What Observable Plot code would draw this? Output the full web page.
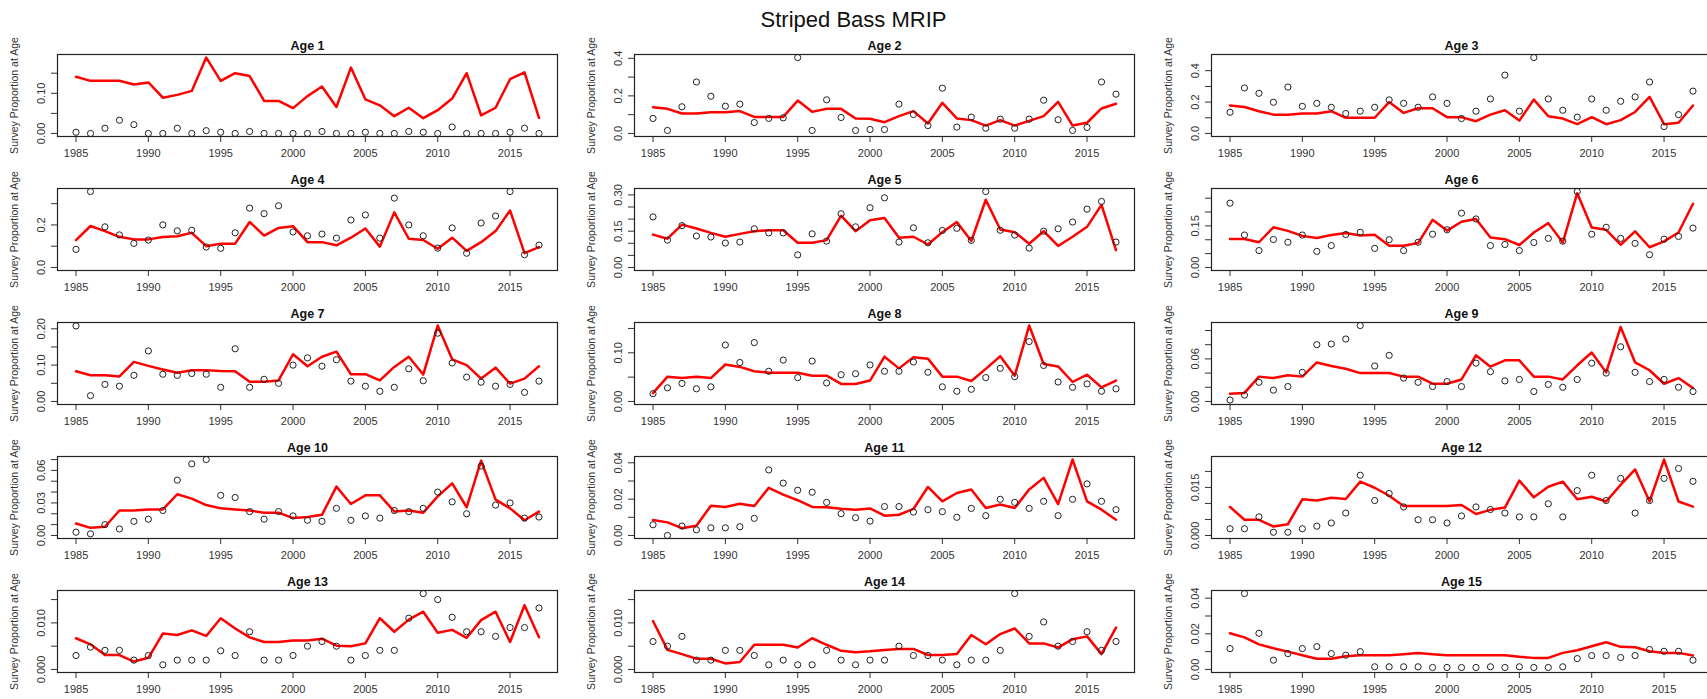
<!DOCTYPE html>
<html><head><meta charset="utf-8">
<script src="https://cdn.jsdelivr.net/npm/d3@7"></script>
<script src="https://cdn.jsdelivr.net/npm/@observablehq/plot@0.6"></script>
<style>
html,body{margin:0;padding:0;background:#fff;overflow:hidden;}
#fig{position:relative;width:1707px;height:699px;overflow:hidden;background:#fff;font-family:"Liberation Sans",Arial,sans-serif;}
#title{position:absolute;left:0;width:1707px;top:7px;text-align:center;font-size:22px;color:#111;line-height:26px;}
.panel{position:absolute;}
</style></head><body>
<div id="fig"><div id="title">Striped Bass MRIP</div></div>
<script>
const years = [1985,1986,1987,1988,1989,1990,1991,1992,1993,1994,1995,1996,1997,1998,1999,2000,2001,2002,2003,2004,2005,2006,2007,2008,2009,2010,2011,2012,2013,2014,2015,2016,2017];
const xTicks = [1985,1990,1995,2000,2005,2010,2015];
const ages = [1,2,3,4,5,6,7,8,9,10,11,12,13,14,15];

const pred1 = [0.141,0.131,0.131,0.131,0.122,0.127,0.089,0.096,0.106,0.189,0.131,0.150,0.143,0.081,0.081,0.063,0.093,0.117,0.066,0.164,0.085,0.070,0.043,0.064,0.038,0.058,0.087,0.150,0.045,0.064,0.135,0.152,0.039];
const obs1  = [0.003,0.000,0.013,0.033,0.022,0.000,0.000,0.013,0.000,0.007,0.003,0.000,0.005,0.000,0.000,0.000,0.000,0.005,0.000,0.000,0.003,0.000,0.000,0.005,0.003,0.000,0.016,0.000,0.000,0.000,0.003,0.013,0.000];
const pred2 = [0.140,0.131,0.106,0.106,0.113,0.113,0.119,0.088,0.088,0.088,0.175,0.115,0.131,0.131,0.080,0.078,0.060,0.092,0.119,0.053,0.163,0.080,0.071,0.042,0.071,0.042,0.067,0.092,0.168,0.042,0.057,0.133,0.158];
const obs2  = [0.080,0.016,0.142,0.274,0.198,0.145,0.156,0.058,0.080,0.083,0.404,0.016,0.179,0.085,0.016,0.021,0.021,0.156,0.101,0.042,0.241,0.034,0.087,0.028,0.076,0.028,0.076,0.177,0.073,0.016,0.032,0.274,0.209];
const pred3 = [0.178,0.169,0.142,0.120,0.120,0.127,0.127,0.142,0.100,0.100,0.100,0.200,0.131,0.161,0.161,0.104,0.104,0.078,0.120,0.148,0.082,0.216,0.110,0.095,0.059,0.104,0.059,0.085,0.137,0.233,0.059,0.068,0.178];
const obs3  = [0.135,0.290,0.256,0.199,0.296,0.173,0.192,0.167,0.127,0.142,0.167,0.214,0.192,0.167,0.233,0.192,0.095,0.142,0.220,0.372,0.142,0.484,0.220,0.148,0.104,0.220,0.148,0.205,0.233,0.328,0.044,0.120,0.270];
const pred4 = [0.129,0.195,0.171,0.144,0.132,0.132,0.143,0.147,0.163,0.100,0.112,0.112,0.214,0.150,0.186,0.194,0.119,0.119,0.104,0.140,0.183,0.098,0.259,0.135,0.129,0.088,0.140,0.078,0.119,0.171,0.268,0.067,0.096];
const obs4  = [0.085,0.357,0.191,0.153,0.113,0.129,0.200,0.172,0.175,0.096,0.090,0.163,0.279,0.253,0.290,0.167,0.149,0.157,0.138,0.223,0.247,0.138,0.326,0.200,0.149,0.091,0.186,0.067,0.209,0.242,0.357,0.060,0.105];
const pred5 = [0.136,0.119,0.177,0.161,0.143,0.127,0.139,0.150,0.154,0.154,0.102,0.102,0.113,0.214,0.150,0.195,0.205,0.123,0.127,0.095,0.146,0.188,0.109,0.280,0.157,0.146,0.098,0.150,0.089,0.127,0.168,0.259,0.072];
const obs5  = [0.209,0.113,0.173,0.130,0.126,0.101,0.105,0.160,0.143,0.143,0.052,0.139,0.109,0.222,0.168,0.247,0.288,0.105,0.164,0.102,0.153,0.162,0.112,0.314,0.154,0.134,0.080,0.150,0.160,0.188,0.241,0.273,0.105];
const pred6 = [0.103,0.103,0.091,0.145,0.132,0.114,0.106,0.117,0.124,0.115,0.118,0.078,0.078,0.088,0.172,0.133,0.165,0.175,0.108,0.102,0.081,0.126,0.160,0.090,0.268,0.144,0.136,0.082,0.130,0.073,0.094,0.126,0.230];
const obs6  = [0.232,0.117,0.061,0.101,0.091,0.117,0.058,0.079,0.119,0.127,0.069,0.100,0.061,0.091,0.120,0.136,0.196,0.175,0.079,0.083,0.061,0.090,0.105,0.095,0.274,0.120,0.145,0.105,0.087,0.046,0.102,0.112,0.142];
const pred7 = [0.083,0.072,0.072,0.069,0.109,0.098,0.088,0.079,0.086,0.086,0.084,0.083,0.054,0.054,0.058,0.130,0.097,0.123,0.137,0.075,0.075,0.058,0.095,0.123,0.074,0.209,0.116,0.100,0.063,0.093,0.049,0.063,0.097];
const obs7  = [0.208,0.016,0.047,0.042,0.072,0.139,0.075,0.072,0.077,0.075,0.039,0.145,0.039,0.061,0.050,0.100,0.120,0.097,0.115,0.056,0.042,0.028,0.039,0.090,0.057,0.188,0.106,0.067,0.053,0.042,0.047,0.025,0.056];
const pred8 = [0.017,0.051,0.048,0.051,0.048,0.076,0.071,0.062,0.059,0.059,0.059,0.053,0.053,0.036,0.036,0.043,0.092,0.068,0.091,0.088,0.051,0.051,0.042,0.067,0.093,0.053,0.156,0.077,0.072,0.040,0.055,0.029,0.043];
const obs8  = [0.016,0.028,0.037,0.026,0.030,0.116,0.080,0.121,0.062,0.085,0.049,0.083,0.038,0.055,0.057,0.075,0.062,0.062,0.081,0.060,0.030,0.021,0.025,0.049,0.068,0.051,0.123,0.074,0.040,0.029,0.036,0.021,0.026];
const pred9 = [0.011,0.012,0.035,0.033,0.037,0.035,0.055,0.050,0.046,0.040,0.040,0.040,0.035,0.035,0.025,0.025,0.031,0.065,0.049,0.058,0.058,0.035,0.035,0.031,0.051,0.069,0.041,0.105,0.055,0.044,0.025,0.033,0.019];
const obs9  = [0.002,0.009,0.027,0.016,0.021,0.041,0.080,0.081,0.088,0.107,0.050,0.065,0.033,0.027,0.021,0.028,0.021,0.054,0.042,0.029,0.031,0.014,0.024,0.020,0.031,0.054,0.040,0.077,0.041,0.028,0.031,0.020,0.014];
const pred10 = [0.011,0.007,0.008,0.023,0.023,0.024,0.024,0.038,0.034,0.028,0.025,0.024,0.023,0.021,0.021,0.016,0.017,0.019,0.045,0.029,0.037,0.037,0.022,0.023,0.021,0.036,0.048,0.026,0.069,0.033,0.025,0.014,0.022];
const obs10  = [0.003,0.0015,0.010,0.006,0.013,0.015,0.023,0.051,0.066,0.070,0.037,0.035,0.022,0.015,0.022,0.018,0.014,0.013,0.025,0.014,0.018,0.016,0.023,0.022,0.025,0.040,0.031,0.020,0.064,0.028,0.030,0.016,0.017];
const pred11 = [0.0085,0.0072,0.0040,0.0053,0.0164,0.0157,0.0175,0.0162,0.0262,0.0225,0.0194,0.0157,0.0155,0.0147,0.0142,0.0149,0.0109,0.0114,0.0146,0.0267,0.0188,0.0234,0.0253,0.0151,0.0170,0.0151,0.0253,0.0317,0.0173,0.0418,0.0188,0.0142,0.0087];
const obs11  = [0.0059,0.0000,0.0052,0.0031,0.0042,0.0042,0.0048,0.0094,0.0361,0.0288,0.0249,0.0238,0.0182,0.0120,0.0098,0.0079,0.0159,0.0159,0.0129,0.0142,0.0131,0.0100,0.0149,0.0109,0.0199,0.0182,0.0149,0.0188,0.0109,0.0199,0.0284,0.0188,0.0142];
const pred12 = [0.0089,0.0049,0.0049,0.0028,0.0035,0.0113,0.0109,0.0118,0.0114,0.0168,0.0149,0.0124,0.0092,0.0092,0.0092,0.0092,0.0095,0.0067,0.0080,0.0087,0.0171,0.0119,0.0152,0.0168,0.0113,0.0121,0.0106,0.0158,0.0206,0.0106,0.0237,0.0106,0.0090];
const obs12  = [0.0021,0.0021,0.0058,0.0010,0.0010,0.0021,0.0029,0.0039,0.0070,0.0188,0.0109,0.0131,0.0089,0.0049,0.0049,0.0039,0.0061,0.0089,0.0081,0.0070,0.0058,0.0058,0.0099,0.0058,0.0140,0.0188,0.0109,0.0178,0.0070,0.0109,0.0178,0.0209,0.0169];
const pred13 = [0.0067,0.0054,0.0031,0.0031,0.0017,0.0025,0.0077,0.0074,0.0084,0.0072,0.0110,0.0088,0.0069,0.0059,0.0059,0.0062,0.0062,0.0066,0.0051,0.0050,0.0056,0.0110,0.0081,0.0107,0.0124,0.0079,0.0085,0.0068,0.0106,0.0124,0.0059,0.0138,0.0069];
const obs13  = [0.0030,0.0048,0.0041,0.0041,0.0020,0.0030,0.0010,0.0020,0.0020,0.0020,0.0040,0.0030,0.0081,0.0020,0.0020,0.0030,0.0050,0.0060,0.0050,0.0020,0.0030,0.0041,0.0041,0.0110,0.0163,0.0150,0.0112,0.0081,0.0081,0.0071,0.0090,0.0090,0.0132];
const pred14 = [0.0104,0.0042,0.0033,0.0023,0.0023,0.0013,0.0016,0.0053,0.0053,0.0053,0.0047,0.0067,0.0053,0.0040,0.0037,0.0039,0.0042,0.0044,0.0044,0.0031,0.0031,0.0033,0.0074,0.0054,0.0076,0.0088,0.0056,0.0056,0.0047,0.0065,0.0071,0.0033,0.0090];
const obs14  = [0.0060,0.0050,0.0071,0.0020,0.0020,0.0041,0.0041,0.0030,0.0010,0.0020,0.0010,0.0010,0.0041,0.0020,0.0010,0.0020,0.0020,0.0050,0.0030,0.0030,0.0020,0.0010,0.0020,0.0020,0.0041,0.0163,0.0071,0.0102,0.0050,0.0060,0.0081,0.0041,0.0060];
const pred15 = [0.0203,0.0180,0.0141,0.0119,0.0100,0.0080,0.0060,0.0060,0.0074,0.0080,0.0080,0.0080,0.0086,0.0093,0.0086,0.0080,0.0080,0.0080,0.0080,0.0080,0.0071,0.0065,0.0065,0.0093,0.0108,0.0130,0.0153,0.0127,0.0125,0.0102,0.0093,0.0093,0.0078];
const obs15  = [0.0117,0.0426,0.0203,0.0052,0.0089,0.0117,0.0128,0.0089,0.0080,0.0100,0.0015,0.0015,0.0015,0.0015,0.0011,0.0011,0.0011,0.0011,0.0015,0.0011,0.0015,0.0011,0.0011,0.0015,0.0061,0.0078,0.0078,0.0067,0.0078,0.0112,0.0102,0.0102,0.0052];

const yTicks = [
  [0,0.05,0.10,0.15],
  [0,0.1,0.2,0.3,0.4],
  [0,0.1,0.2,0.3,0.4],
  [0,0.1,0.2,0.3],
  [0,0.05,0.10,0.15,0.20,0.25,0.30],
  [0,0.05,0.10,0.15,0.20,0.25],
  [0,0.05,0.10,0.15,0.20],
  [0,0.05,0.10,0.15],
  [0,0.02,0.04,0.06,0.08,0.10],
  [0,0.01,0.02,0.03,0.04,0.05,0.06,0.07],
  [0,0.01,0.02,0.03,0.04],
  [0,0.005,0.010,0.015,0.020],
  [0,0.005,0.010,0.015],
  [0,0.005,0.010,0.015],
  [0,0.01,0.02,0.03,0.04]
];
const yTickLabels = [
  ["0.00","","0.10",""],
  ["0.0","","0.2","","0.4"],
  ["0.0","","0.2","","0.4"],
  ["0.0","","0.2",""],
  ["0.00","","","0.15","","","0.30"],
  ["0.00","","","0.15","",""],
  ["0.00","","0.10","","0.20"],
  ["0.00","","0.10",""],
  ["0.00","","","0.06","",""],
  ["0.00","","","0.03","","","0.06",""],
  ["0.00","","0.02","","0.04"],
  ["0.000","","","0.015",""],
  ["0.000","","0.010",""],
  ["0.000","","0.010",""],
  ["0.00","","0.02","","0.04"]
];
const preds = [pred1,pred2,pred3,pred4,pred5,pred6,pred7,pred8,pred9,pred10,pred11,pred12,pred13,pred14,pred15];
const obss  = [obs1,obs2,obs3,obs4,obs5,obs6,obs7,obs8,obs9,obs10,obs11,obs12,obs13,obs14,obs15];

const colLefts = [57, 634, 1211];
const rowTops = [54, 188, 322, 456, 590];
const FW = 500, FH = 82;
const ML = 54, MR = 6, MT = 44, MB = 44;
const fig = document.getElementById("fig");
const font = '"Liberation Sans", Arial, sans-serif';

ages.forEach((age, i) => {
  const col = i % 3, row = Math.floor(i / 3);
  const data = years.map((yr, j) => ({year: yr, pred: preds[i][j], obs: obss[i][j]}));
  const hi = d3.max(preds[i].concat(obss[i]));
  const ticks = yTicks[i], labs = yTickLabels[i];
  const fmt = d => { const k = ticks.findIndex(t => Math.abs(t - d) < 1e-9); return k >= 0 ? labs[k] : ""; };
  const chart = Plot.plot({
    width: ML + FW + MR, height: MT + FH + MB,
    marginLeft: ML, marginRight: MR, marginTop: MT, marginBottom: MB,
    style: {overflow: "visible", background: "transparent", fontFamily: font, fontSize: "11px", color: "#333"},
    x: {domain: [1985 - 1.28, 2017 + 1.28]},
    y: {domain: [-0.04 * hi, 1.04 * hi]},
    marks: [
      Plot.axisX({ticks: xTicks, tickFormat: d => String(d), tickSize: 6, tickPadding: 7, label: null, fontSize: 11}),
      Plot.axisY({ticks: ticks, tickFormat: fmt, tickSize: 6, tickPadding: 7, tickRotate: -90, label: null, fontSize: 11}),
      Plot.lineY(data, {x: "year", y: "pred", stroke: "#ff0000", strokeWidth: 2.5}),
      Plot.dot(data, {x: "year", y: "obs", r: 3.1, stroke: "#222", strokeWidth: 1, fill: "none"}),
      Plot.frame({stroke: "#222", strokeWidth: 1.2}),
      Plot.text([`Age ${age}`], {frameAnchor: "top", dy: -9, lineAnchor: "middle", textAnchor: "middle", fontWeight: "bold", fontSize: 12.5, fill: "#111"}),
      Plot.text(["Survey Proportion at Age"], {frameAnchor: "left", dx: -43, rotate: -90, textAnchor: "middle", lineAnchor: "middle", fontSize: 10.5, fill: "#333"})
    ]
  });
  chart.classList.add("panel");
  chart.style.left = (colLefts[col] - ML) + "px";
  chart.style.top = (rowTops[row] - MT) + "px";
  fig.appendChild(chart);
});
</script>
</body></html>
